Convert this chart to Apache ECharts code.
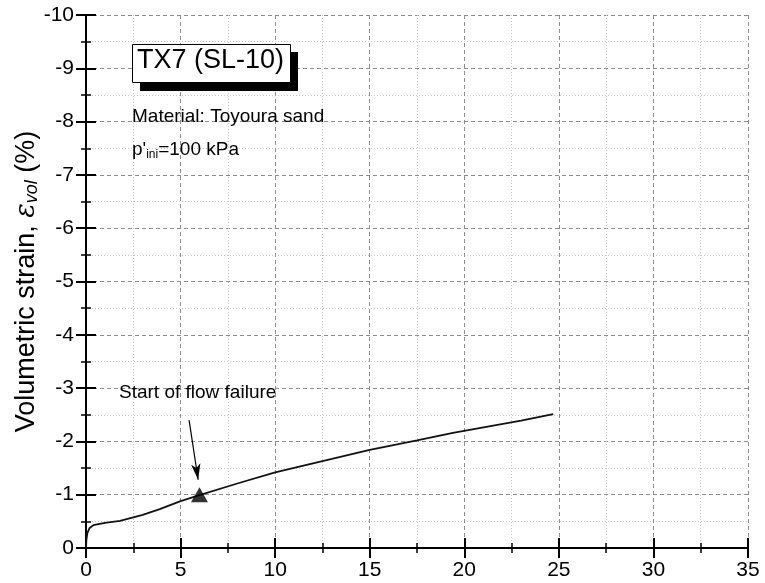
<!DOCTYPE html>
<html>
<head>
<meta charset="utf-8">
<script src="https://cdn.jsdelivr.net/npm/echarts@6/dist/echarts.min.js"></script>
<style>
  html, body { margin: 0; padding: 0; background: #fff; }
  #chart { width: 765px; height: 583px; }
</style>
</head>
<body>
<div id="chart"></div>
<script>
// Axial strain (%) and volumetric strain (%) for test TX7 (SL-10)
var axialStrain = [0, 0.02, 0.07, 0.18, 0.39, 1.0, 1.8, 3.0, 3.9, 5.0, 6.0, 8.0, 10.0, 13.0, 15.0, 17.5, 19.4, 23.0, 24.7];
var volStrain   = [0, -0.15, -0.28, -0.37, -0.43, -0.47, -0.51, -0.62, -0.73, -0.88, -0.99, -1.21, -1.42, -1.67, -1.84, -2.02, -2.16, -2.39, -2.51];

// Onset of flow failure
var flowStart = [6.0, -1.0];
// Arrow pointing at the onset marker (tail, head)
var arrowTail = [5.45, -2.40];
var arrowHead = [5.93, -1.28];

var xTicks = [0, 5, 10, 15, 20, 25, 30, 35];
var yTicks = [-10, -9, -8, -7, -6, -5, -4, -3, -2, -1, 0];

var FONT = '"Liberation Sans", Arial, sans-serif';

var chart = echarts.init(document.getElementById('chart'), null, { renderer: 'canvas' });

var curve = axialStrain.map(function (x, i) { return [x, volStrain[i]]; });

var axisLine = { show: true, lineStyle: { color: '#000', width: 2 } };
var majorTick = { show: true, inside: true, length: 10, lineStyle: { color: '#000', width: 2 } };
var minorTick = { show: true, inside: true, length: 5, splitNumber: 2, lineStyle: { color: '#000', width: 1.5 } };

chart.setOption({
  animation: false,
  backgroundColor: '#fff',
  grid: { left: 86, right: 17, top: 15, bottom: 35, containLabel: false, outerBoundsMode: 'none' },
  xAxis: [{
    type: 'value',
    min: xTicks[0], max: xTicks[xTicks.length - 1], interval: 5,
    axisLine: axisLine,
    axisTick: majorTick,
    minorTick: minorTick,
    axisLabel: { color: '#000', fontSize: 21, fontFamily: FONT, margin: 12 },
    splitLine: { show: true, lineStyle: { color: '#8c8c8c', width: 1, type: [4, 3] } },
    minorSplitLine: { show: true, lineStyle: { color: '#c8c8c8', width: 1, type: [1, 2] } }
  }, {
    type: 'value', position: 'top',
    min: xTicks[0], max: xTicks[xTicks.length - 1], interval: 5,
    axisLine: axisLine, axisTick: majorTick, minorTick: minorTick,
    axisLabel: { show: false }, splitLine: { show: false }
  }],
  yAxis: [{
    type: 'value', inverse: true,
    min: yTicks[0], max: yTicks[yTicks.length - 1], interval: 1,
    axisLine: axisLine,
    axisTick: majorTick,
    minorTick: minorTick,
    axisLabel: { color: '#000', fontSize: 21, fontFamily: FONT, margin: 12 },
    splitLine: { show: true, lineStyle: { color: '#8c8c8c', width: 1, type: [4, 3] } },
    minorSplitLine: { show: true, lineStyle: { color: '#c8c8c8', width: 1, type: [1, 2] } },
    name: 'Volumetric strain, {e|ε}{sub|vol} (%)',
    nameLocation: 'middle',
    nameRotate: 90,
    nameGap: 45,
    nameMoveOverlap: false,
    nameTextStyle: {
      color: '#000', fontSize: 27, fontFamily: FONT,
      rich: {
        e: { fontSize: 27, fontStyle: 'italic', fontFamily: '"DejaVu Serif", serif', color: '#000' },
        sub: { fontSize: 18, fontStyle: 'italic', fontFamily: FONT, color: '#000', padding: [11, 0, 0, 0] }
      }
    }
  }, {
    type: 'value', position: 'right', inverse: true,
    min: yTicks[0], max: yTicks[yTicks.length - 1], interval: 1,
    axisLine: axisLine, axisTick: majorTick, minorTick: minorTick,
    axisLabel: { show: false }, splitLine: { show: false }
  }],
  series: [{
    type: 'line',
    data: curve,
    showSymbol: false,
    symbol: 'none',
    lineStyle: { color: '#111', width: 1.8 },
    z: 3,
    markLine: {
      silent: true,
      symbol: ['none', 'arrow'],
      symbolSize: [7, 16],
      label: { show: false },
      lineStyle: { color: '#000', width: 1.2, type: 'solid' },
      data: [[{ coord: arrowTail }, { coord: arrowHead }]]
    }
  }, {
    type: 'scatter',
    data: [flowStart],
    symbol: 'triangle',
    symbolSize: [17, 15],
    itemStyle: { color: '#000' },
    z: 4
  }],
  graphic: [
    // Title box with drop shadow
    { type: 'rect', left: 140, top: 52, shape: { width: 158, height: 39 }, style: { fill: '#000' }, z: 10 },
    { type: 'rect', left: 132, top: 44, shape: { width: 158, height: 38 }, style: { fill: '#fff', stroke: '#000', lineWidth: 1 }, z: 11 },
    { type: 'text', left: 137, top: 47, style: { text: 'TX7 (SL-10)', font: '27px ' + FONT, fill: '#000' }, z: 12 },
    { type: 'text', left: 132, top: 107, style: { text: 'Material: Toyoura sand', font: '19px ' + FONT, fill: '#000' }, z: 12 },
    { type: 'text', left: 132, top: 140, style: {
        text: "{a|p'}{b|ini}{a|=100 kPa}",
        rich: {
          a: { fontSize: 19, fontFamily: FONT, fill: '#000' },
          b: { fontSize: 12, fontFamily: FONT, fill: '#000', padding: [10, 0, 0, 0] }
        }
      }, z: 12 },
    { type: 'text', left: 119, top: 383, style: { text: 'Start of flow failure', font: '19px ' + FONT, fill: '#000' }, z: 12 }
  ]
});
</script>
</body>
</html>
